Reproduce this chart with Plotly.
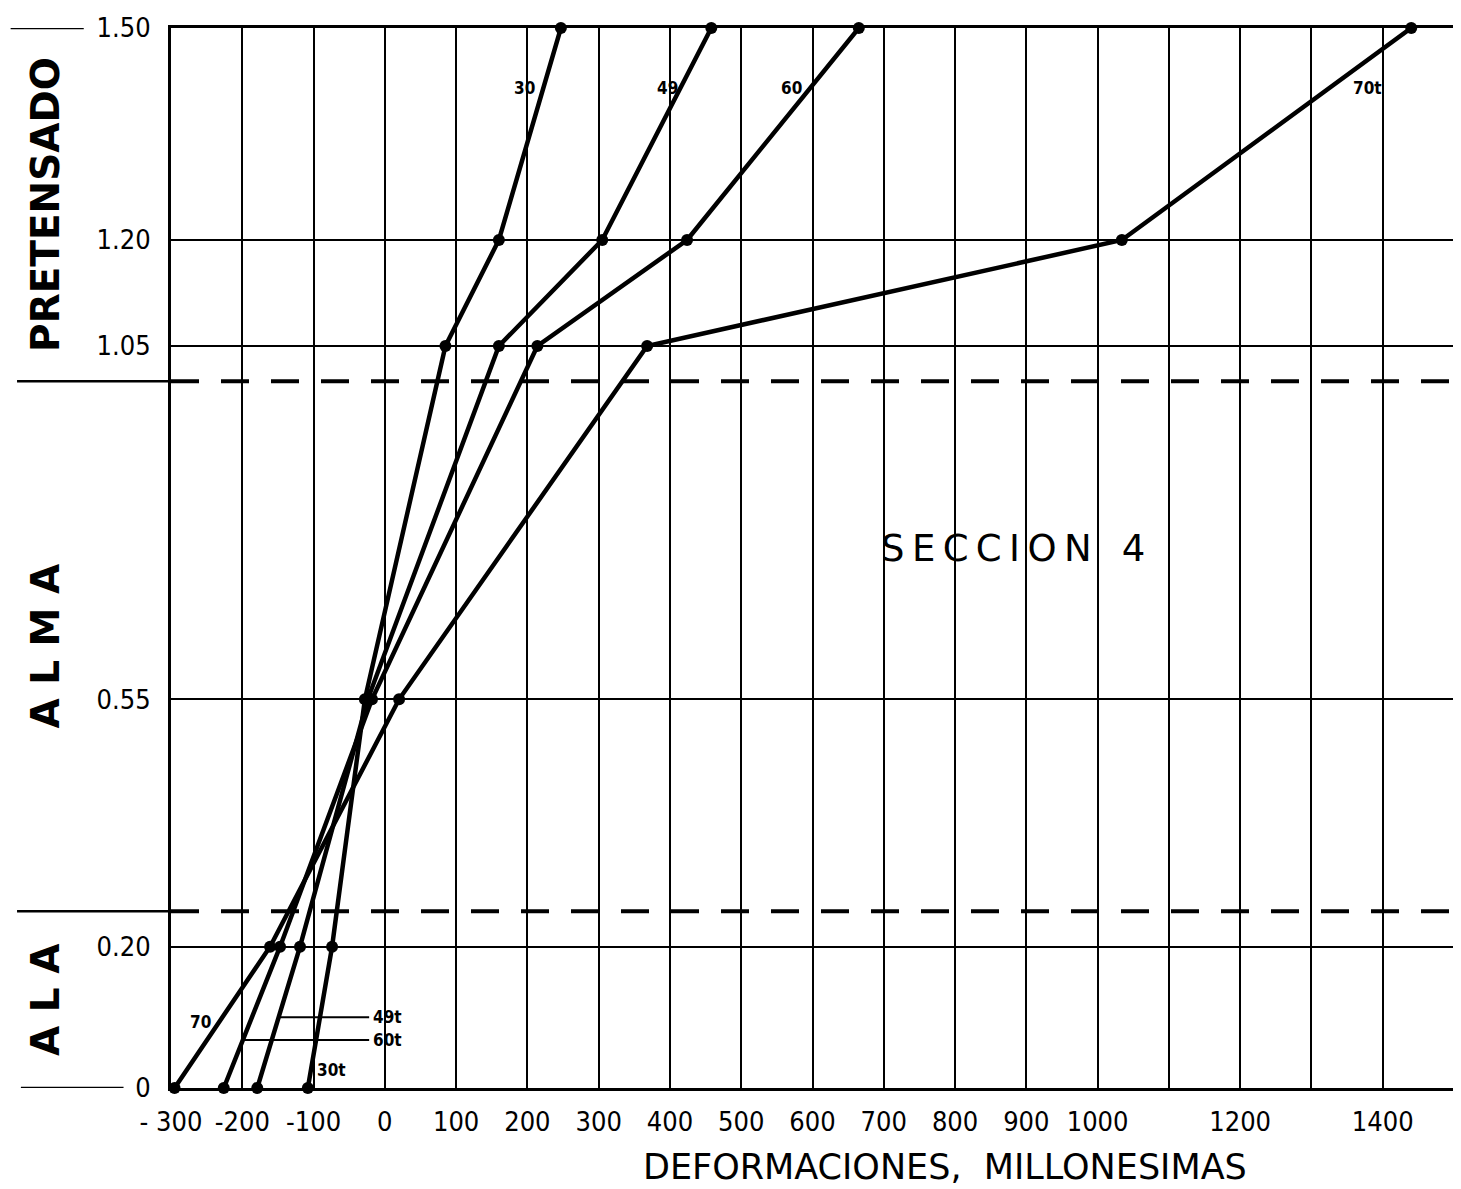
import numpy as np
import plotly.graph_objects as go

# ---------------- data ----------------
heights = [0, 0.20, 0.55, 1.05, 1.20, 1.50]
def_30t = [-108, -74, -28, 85, 160, 247]
def_49t = [-179, -119, -24, 160, 305, 458]
def_60t = [-226, -147, -18, 214, 424, 665]
def_70t = [-295, -161, 20, 368, 1034, 1440]

x_tick_vals = list(range(-300, 1500, 100))
x_tick_text = ["- 300", "-200", "-100", "0", "100", "200", "300", "400", "500",
               "600", "700", "800", "900", "1000", "", "1200", "", "1400"]
y_tick_vals = [0, 0.20, 0.55, 1.05, 1.20, 1.50]
y_tick_text = ["0", "0.20", "0.55", "1.05", "1.20", "1.50"]
divider_heights = [0.25, 1.0]

series = [("30t", def_30t), ("49t", def_49t), ("60t", def_60t), ("70t", def_70t)]

NARROW = "Liberation Sans Narrow, DejaVu Sans Condensed, Roboto Condensed, Liberation Sans, sans-serif"
SANS = "DejaVu Sans, Liberation Sans, sans-serif"

fig = go.Figure()
for name, vals in series:
    fig.add_trace(go.Scatter(
        x=vals, y=heights, mode="lines+markers", name=name,
        line=dict(color="black", width=4.5),
        marker=dict(color="black", size=12),
        cliponaxis=False, showlegend=False,
    ))

shapes = []
for h in divider_heights:
    shapes.append(dict(type="line", xref="paper", yref="y", x0=0, x1=1.003, y0=h, y1=h,
                       line=dict(color="black", width=4, dash="28px,22px")))
    shapes.append(dict(type="line", xref="paper", yref="y", x0=-0.120, x1=0, y0=h, y1=h,
                       line=dict(color="black", width=2.5)))
shapes.append(dict(type="line", xref="paper", yref="y", x0=-0.125, x1=-0.068,
                   y0=y_tick_vals[-1], y1=y_tick_vals[-1], line=dict(color="black", width=2.5)))
shapes.append(dict(type="line", xref="paper", yref="y", x0=-0.117, x1=-0.037,
                   y0=y_tick_vals[0], y1=y_tick_vals[0], line=dict(color="black", width=2.5)))
shapes.append(dict(type="line", xref="paper", yref="y", x0=1, x1=1.003,
                   y0=y_tick_vals[0], y1=y_tick_vals[0], line=dict(color="black", width=3)))

annotations = []
top_y = 1.415
for (name, vals), txt, anchor, shift in zip(series, ["30", "49", "60", "70t"],
                                            ["right", "right", "right", "left"],
                                            [-6, 0, -6, 22]):
    annotations.append(dict(x=float(np.interp(top_y, heights, vals)), y=top_y, text="<b>%s</b>" % txt,
                            showarrow=False, xanchor=anchor, yanchor="middle", xshift=shift,
                            font=dict(family=NARROW, size=17, color="black")))
annotations.append(dict(x=float(np.interp(0.093, heights, def_70t)), y=0.093, text="<b>70</b>",
                        showarrow=False, xanchor="right", yanchor="middle", xshift=-6,
                        font=dict(family=NARROW, size=17, color="black")))
annotations.append(dict(x=float(np.interp(0.025, heights, def_30t)), y=0.025, text="<b>30t</b>",
                        showarrow=False, xanchor="left", yanchor="middle", xshift=4,
                        font=dict(family=NARROW, size=17, color="black")))
for name, vals, h in [("49t", def_49t, 0.10), ("60t", def_60t, 0.068)]:
    x0 = float(np.interp(h, heights, vals))
    shapes.append(dict(type="line", xref="x", yref="y", x0=x0, x1=-22, y0=h, y1=h,
                       line=dict(color="black", width=2)))
    annotations.append(dict(x=-20, y=h, text="<b>%s</b>" % name, showarrow=False,
                            xanchor="left", yanchor="middle",
                            font=dict(family=NARROW, size=17, color="black")))

ts = "\u2009"
annotations.append(dict(xref="paper", yref="paper", x=0.656, y=0.509,
                        text=ts.join("SECCION") + "\u2002 4",
                        showarrow=False, xanchor="center", yanchor="middle",
                        font=dict(family=SANS, size=37, color="black")))
annotations.append(dict(xref="paper", yref="paper", x=0.603, y=-0.0745,
                        text="DEFORMACIONES,  MILLONESIMAS",
                        showarrow=False, xanchor="center", yanchor="middle",
                        font=dict(family=SANS, size=35, color="black")))
for txt, ycen in [("PRETENSADO", 1.25), ("A L M A", 0.625), ("A L A", 0.125)]:
    annotations.append(dict(xref="paper", yref="y", x=-0.098, y=ycen, text="<b>%s</b>" % txt,
                            textangle=-90, showarrow=False, xanchor="center", yanchor="middle",
                            font=dict(family=SANS, size=39, color="black")))

fig.update_layout(
    width=1453, height=1181,
    margin=dict(l=163, r=4, t=20, b=101),
    paper_bgcolor="white", plot_bgcolor="white",
    shapes=shapes, annotations=annotations,
    xaxis=dict(range=[-300, 1500], tickmode="array", tickvals=x_tick_vals, ticktext=x_tick_text,
               showgrid=True, gridcolor="black", gridwidth=2, zeroline=False,
               showline=True, linecolor="black", linewidth=3, mirror=True,
               ticks="", ticklabelstandoff=8,
               tickfont=dict(family=NARROW, size=27, color="black")),
    yaxis=dict(range=[0, 1.5], tickmode="array", tickvals=y_tick_vals, ticktext=y_tick_text,
               showgrid=True, gridcolor="black", gridwidth=2, zeroline=False,
               showline=True, linecolor="black", linewidth=3, mirror=True,
               ticks="", ticklabelstandoff=12,
               tickfont=dict(family=NARROW, size=27, color="black")),
)

fig.write_html("out.html")
